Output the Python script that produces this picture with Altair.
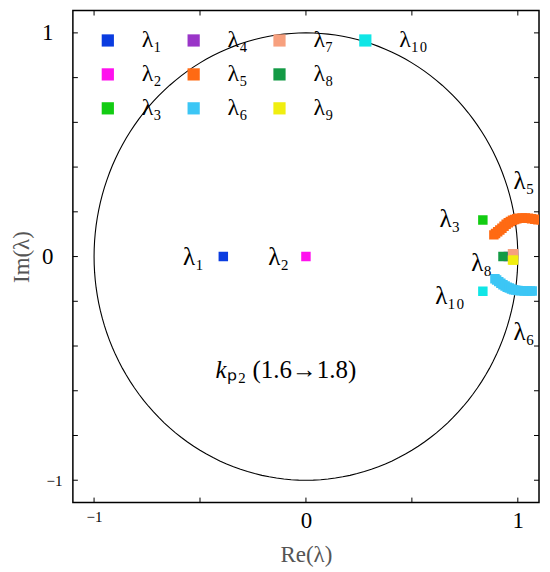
import altair as alt
import pandas as pd

# ---- data ----
# legend grid (row-major, 4 columns); blank cells keep column 4 empty in rows 2-3
legend_order = ["λ₁", "λ₄", "λ₇", "λ₁₀", "λ₂", "λ₅", "λ₈", " ", "λ₃", "λ₆", "λ₉", "  "]
legend_colors = ["#0a3ce0", "#9a35c8", "#f7a07e", "#10e6e6", "#ff10ee",
                 "#ff6a13", "#139a45", "rgba(0,0,0,0)", "#12cc12", "#3cc6f5", "#f0ee10",
                 "rgba(0,0,0,0)"]

# eigenvalue positions (Re, Im) for kp2 from 1.6 to 1.8
l1_re = [-0.39]; l1_im = [0.0]
l2_re = [0.0]; l2_im = [0.0]
l3_re = [0.835]; l3_im = [0.163]
l4_re = [0.955]; l4_im = [0.0]
l5_re = [0.887, 0.895, 0.905, 0.915, 0.925, 0.935, 0.945, 0.955, 0.965, 0.975,
         0.985, 0.995, 1.005, 1.02, 1.035, 1.05, 1.065, 1.08, 1.095, 1.11]
l5_im = [0.097, 0.103, 0.111, 0.119, 0.127, 0.136, 0.144, 0.151, 0.157, 0.162,
         0.166, 0.169, 0.171, 0.172, 0.172, 0.171, 0.169, 0.167, 0.165, 0.164]
l6_re = [0.892, 0.90, 0.91, 0.92, 0.93, 0.94, 0.95, 0.96, 0.97, 0.98, 0.99,
         1.00, 1.015, 1.03, 1.045, 1.06, 1.068]
l6_im = [-0.099, -0.105, -0.112, -0.119, -0.126, -0.132, -0.137, -0.141, -0.145,
         -0.148, -0.150, -0.152, -0.153, -0.154, -0.154, -0.154, -0.154]
l7_re = [0.975, 0.98]; l7_im = [0.013, 0.013]
l8_re = [0.93]; l8_im = [0.0]
l9_re = [0.975, 0.98]; l9_im = [-0.016, -0.016]
l10_re = [0.835]; l10_im = [-0.155]

series = [("λ₁", l1_re, l1_im), ("λ₂", l2_re, l2_im), ("λ₃", l3_re, l3_im),
          ("λ₄", l4_re, l4_im), ("λ₅", l5_re, l5_im), ("λ₆", l6_re, l6_im),
          ("λ₇", l7_re, l7_im), ("λ₈", l8_re, l8_im), ("λ₉", l9_re, l9_im),
          ("λ₁₀", l10_re, l10_im)]

# annotation labels (left edge, centre)
ann_text = ["λ₁", "λ₂", "λ₃", "λ₈", "λ₁₀", "λ₅", "λ₆"]
ann_x = [-0.58, -0.178, 0.63, 0.78, 0.61, 0.98, 0.98]
ann_y = [0.0, 0.0, 0.17, -0.03, -0.175, 0.336, -0.336]
kp_label_x = [-0.427]
kp_label_y = [-0.506]

x_ticks = [-1, -0.5, 0, 0.5, 1]
y_ticks = [-1, -0.8, -0.6, -0.4, -0.2, 0, 0.2, 0.4, 0.6, 0.8, 1]
tick_labels = [-1, 0, 1]

# ---- build tables ----
rows = []
i = 0
for name, re, im in series:
    for a, b in zip(re, im):
        rows.append({"name": name, "re": a, "im": b, "idx": i})
        i += 1
pts = pd.DataFrame(rows)
ann = pd.DataFrame({"text": ann_text, "x": ann_x, "y": ann_y})
kp = pd.DataFrame({"x": kp_label_x, "y": kp_label_y})
xt = pd.DataFrame({"v": x_ticks})
yt = pd.DataFrame({"v": y_ticks})

W, H = 467, 493
FONT = "Liberation Serif"
FS = 25
xs = alt.Scale(domain=[-1.1, 1.1], nice=False, zero=False)
ys = alt.Scale(domain=[-1.1, 1.1], nice=False, zero=False)

size_cond = {"condition": {"test": "datum.value < 0", "value": 15}, "value": 23}
x_axis = alt.Axis(values=tick_labels, ticks=False, grid=False, domain=False,
                  labelFont=FONT, labelFontSize=size_cond, labelColor="black",
                  labelPadding=7, title="Re(λ)", titleFont=FONT, titleFontSize=23,
                  titleFontWeight="normal", titleColor="#555555", titlePadding=11)
y_axis = alt.Axis(values=tick_labels, ticks=False, grid=False, domain=False,
                  labelFont=FONT, labelFontSize=size_cond, labelColor="black",
                  labelPadding={"condition": {"test": "datum.value < 0", "value": 11}, "value": 20},
                  title="Im(λ)", titleFont=FONT, titleFontSize=23,
                  titleFontWeight="normal", titleColor="#555555", titlePadding=8)


def X(f):
    return alt.X(f, scale=xs, axis=x_axis)


def Y(f):
    return alt.Y(f, scale=ys, axis=y_axis)


circle = alt.Chart(alt.sequence(0, 362, 2, as_="t")).transform_calculate(
    cx="cos(datum.t*PI/180)", cy="sin(datum.t*PI/180)"
).mark_line(color="black", strokeWidth=1.1).encode(
    x=X("cx:Q"), y=Y("cy:Q"), order="t:Q",
)

points = alt.Chart(pts).mark_square(size=90, opacity=1, filled=True, clip=True).encode(
    x=X("re:Q"), y=Y("im:Q"),
    color=alt.Color("name:N", scale=alt.Scale(domain=legend_order, range=legend_colors),
                    legend=alt.Legend(orient="none", legendX=23, legendY=18, columns=4,
                                      direction="horizontal",
                                      title=None, symbolType="square", symbolSize=150,
                                      symbolStrokeWidth=0, symbolOpacity=1,
                                      labelFont=FONT, labelFontSize=24, labelColor="black",
                                      labelOffset=22, columnPadding=19, rowPadding=10,
                                      padding=0)),
    order=alt.Order("idx:Q"),
)

labels = alt.Chart(ann).mark_text(align="left", baseline="middle", font=FONT,
                                  fontSize=FS, color="black").encode(
    x=X("x:Q"), y=Y("y:Q"), text="text:N")

kp_k = alt.Chart(kp).mark_text(align="left", baseline="middle", font=FONT, fontSize=FS,
                               fontStyle="italic", color="black", text="k").encode(
    x=X("x:Q"), y=Y("y:Q"))
kp_rest = alt.Chart(kp).mark_text(align="left", baseline="middle", font=FONT, fontSize=FS,
                                  dx=12, color="black", text="ₚ₂  (1.6→1.8)").encode(
    x=X("x:Q"), y=Y("y:Q"))

tl = 5
tick_b = alt.Chart(xt).mark_rule(color="black", strokeWidth=1).encode(
    x=X("v:Q"), y=alt.value(H), y2=alt.value(H - tl))
tick_t = alt.Chart(xt).mark_rule(color="black", strokeWidth=1).encode(
    x=X("v:Q"), y=alt.value(0), y2=alt.value(tl))
tick_l = alt.Chart(yt).mark_rule(color="black", strokeWidth=1).encode(
    y=Y("v:Q"), x=alt.value(0), x2=alt.value(tl))
tick_r = alt.Chart(yt).mark_rule(color="black", strokeWidth=1).encode(
    y=Y("v:Q"), x=alt.value(W), x2=alt.value(W - tl))

chart = alt.layer(circle, tick_b, tick_t, tick_l, tick_r, points, labels, kp_k, kp_rest).properties(
    width=W, height=H,
    padding={"left": 2, "top": 1, "right": 2, "bottom": 2},
    background="white",
).configure_view(stroke="black", strokeWidth=1.5)

chart.save("out.html", embed_options={"renderer": "svg", "actions": False})
